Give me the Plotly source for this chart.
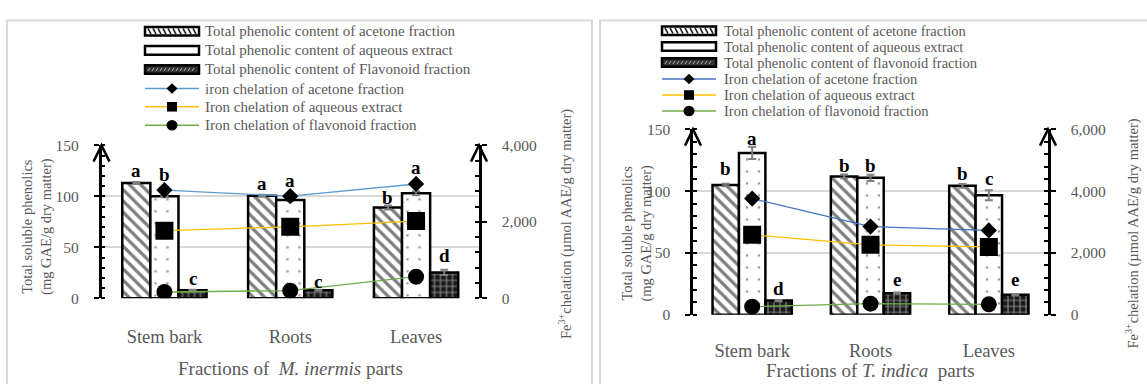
import plotly.graph_objects as go

W, H = 1147, 384
FONT = "Liberation Serif"
GRAY = "#595959"

categories = ["Stem bark", "Roots", "Leaves"]

# ---- Panel 1: M. inermis ----
mi_acetone = [113, 100.5, 89]
mi_aqueous = [100, 96.5, 103]
mi_flav = [8, 7.8, 25.4]
mi_acetone_err = [1, 1, 2]
mi_aqueous_err = [1, 1, 2]
mi_flav_err = [0.5, 0.5, 2.5]
mi_fe_acetone = [2830, 2670, 2990]
mi_fe_aqueous = [1770, 1870, 2020]
mi_fe_flav = [165, 200, 566]
mi_let_acetone = ["a", "a", "b"]
mi_let_aqueous = ["b", "a", "a"]
mi_let_flav = ["c", "c", "d"]
mi_let_y_acetone = [125, 113, 99]
mi_let_y_aqueous = [121, 115.5, 128.6]
mi_let_y_flav = [19.5, 16.5, 42]

# ---- Panel 2: T. indica ----
ti_acetone = [105, 112, 104.4]
ti_aqueous = [131, 110.8, 96.7]
ti_flav = [11.5, 17.5, 16.2]
ti_acetone_err = [1, 1.5, 1.5]
ti_aqueous_err = [5, 2.5, 4]
ti_flav_err = [0.5, 0.5, 0.5]
ti_fe_acetone = [3763, 2855, 2731]
ti_fe_aqueous = [2590, 2267, 2196]
ti_fe_flav = [265, 361, 340]
ti_let_acetone = ["b", "b", "b"]
ti_let_aqueous = ["a", "b", "c"]
ti_let_flav = ["d", "e", "e"]
ti_let_y_acetone = [118, 121, 114.5]
ti_let_y_aqueous = [143, 121, 110.6]
ti_let_y_flav = [21.7, 28.6, 28.6]

legend1_labels = [
    "Total phenolic content of acetone fraction",
    "Total phenolic content of aqueous extract",
    "Total phenolic content of Flavonoid fraction",
    "iron chelation of acetone fraction",
    "Iron chelation of aqueous extract",
    "Iron chelation of flavonoid fraction",
]
legend2_labels = [
    "Total phenolic content of acetone fraction",
    "Total phenolic content of aqueous extract",
    "Total phenolic content of flavonoid fraction",
    "Iron chelation of acetone fraction",
    "Iron chelation of aqueous extract",
    "Iron chelation of flavonoid fraction",
]


def px(x):
    return x / W


def py(y):
    return 1 - y / H


BARGAP = 0.33
OFF = (1 - BARGAP) / 3

pat_ac = dict(shape="\\", fgcolor="black", bgcolor="white", size=8, solidity=0.4)
pat_aq = dict(shape=".", fgcolor="#333333", bgcolor="white", size=12, solidity=0.04)
pat_fl = dict(shape="+", fgcolor="#f0f0f0", bgcolor="#1a1a1a", size=6, solidity=0.35)

fig = go.Figure()
annotations = []
shapes = []


def add_panel(xa, ya, ya2, bars, errs, fes, letters, letter_ys, blue):
    pats = [pat_ac, pat_aq, pat_fl]
    for i, (vals, err, pat) in enumerate(zip(bars, errs, pats)):
        fig.add_trace(go.Bar(
            x=categories, y=vals, xaxis=xa, yaxis=ya, offsetgroup=str(i),
            marker=dict(color=pat["bgcolor"], pattern=pat, line=dict(color="black", width=2.5)),
            error_y=dict(type="data", array=err, color="#7f7f7f", thickness=2, width=4),
            showlegend=False, hoverinfo="skip"))
    styles = [(blue, "diamond", 12.5), ("#FFC000", "square", 18), ("#70AD47", "circle", 16)]
    for vals, (col, sym, size) in zip(fes, styles):
        fig.add_trace(go.Scatter(
            x=categories, y=vals, xaxis=xa, yaxis=ya2, mode="lines+markers",
            line=dict(color=col, width=1.3),
            marker=dict(symbol=sym, size=size, color="black"),
            showlegend=False, hoverinfo="skip"))
    for j, (labs, ys) in enumerate(zip(letters, letter_ys)):
        for i, (t, yv) in enumerate(zip(labs, ys)):
            annotations.append(dict(
                x=i + (j - 1) * OFF, y=yv, xref=xa, yref=ya, text="<b>%s</b>" % t,
                showarrow=False, font=dict(family=FONT, size=19, color="black"),
                xanchor="center", yanchor="middle"))


add_panel("x", "y", "y2",
          [mi_acetone, mi_aqueous, mi_flav],
          [mi_acetone_err, mi_aqueous_err, mi_flav_err],
          [mi_fe_acetone, mi_fe_aqueous, mi_fe_flav],
          [mi_let_acetone, mi_let_aqueous, mi_let_flav],
          [mi_let_y_acetone, mi_let_y_aqueous, mi_let_y_flav], "#5B9BD5")
add_panel("x2", "y3", "y4",
          [ti_acetone, ti_aqueous, ti_flav],
          [ti_acetone_err, ti_aqueous_err, ti_flav_err],
          [ti_fe_acetone, ti_fe_aqueous, ti_fe_flav],
          [ti_let_acetone, ti_let_aqueous, ti_let_flav],
          [ti_let_y_acetone, ti_let_y_aqueous, ti_let_y_flav], "#4472C4")

# geometry (pixels)
P1 = dict(x0=101.5, x1=479, ytop=142.7, ybot=302.7)
P2 = dict(x0=693, x1=1048, ytop=126, ybot=320)

tickfont = dict(family=FONT, size=15.5, color=GRAY)


def xaxis(p, anchor, standoff):
    return dict(domain=[px(p["x0"]), px(p["x1"])], type="category", range=[-0.5, 2.5], anchor=anchor,
                showgrid=False, zeroline=False, showline=False, ticks="",
                tickfont=dict(family=FONT, size=18.5, color=GRAY), ticklabelstandoff=standoff,
                fixedrange=True)


def yleft(p, anchor):
    return dict(domain=[py(p["ybot"]), py(p["ytop"])], range=[0, 150], dtick=50, tick0=0,
                anchor=anchor, showgrid=True, gridcolor="#D9D9D9", gridwidth=1.5, zeroline=False,
                showline=True, linecolor="black", linewidth=2.5, ticks="outside", ticklen=5,
                tickwidth=2, tickcolor="black",
                minor=dict(dtick=10, ticks="inside", ticklen=4, tickwidth=1.5, tickcolor="black", showgrid=False),
                tickfont=tickfont, ticklabelstandoff=12, fixedrange=True)


def yright(rng, over, anchor):
    return dict(range=[0, rng], dtick=2000, tick0=0, tickformat=",", overlaying=over, side="right",
                anchor=anchor, showgrid=False, zeroline=False, showline=True, linecolor="black",
                linewidth=2.5, ticks="outside", ticklen=5, tickwidth=2, tickcolor="black",
                minor=dict(dtick=400, ticks="inside", ticklen=4, tickwidth=1.5, tickcolor="black", showgrid=False),
                tickfont=tickfont, ticklabelstandoff=12, fixedrange=True)


# panel boxes
for bx0, bx1 in [(7, 592), (600, 1170)]:
    shapes.append(dict(type="rect", xref="paper", yref="paper", x0=px(bx0), x1=px(bx1),
                       y0=py(395), y1=py(12), line=dict(color="#D9D9D9", width=2), layer="below"))

# axis arrowheads
for p in (P1, P2):
    for ax in (p["x0"], p["x1"]):
        t = p["ytop"]
        shapes.append(dict(type="path", xref="paper", yref="paper",
                           path="M %f,%f L %f,%f L %f,%f" % (px(ax - 8), py(t + 17), px(ax), py(t), px(ax + 8), py(t + 17)),
                           line=dict(color="black", width=2.5)))


# axis titles
def title(x, y, text, angle=0, size=14):
    annotations.append(dict(x=px(x), y=py(y), xref="paper", yref="paper", text=text, showarrow=False,
                            textangle=angle, font=dict(family=FONT, size=size, color=GRAY),
                            xanchor="center", yanchor="middle"))


title(37, 228, "Total soluble phenolics<br>(mg GAE/g dry matter)", -90, 14.5)
title(565, 225, "Fe<sup>3+</sup>chelation (µmol AAE/g dry matter)", -90, 14.5)
title(290, 376, "Fractions of \u00a0<i>M. inermis</i> parts", 0, 19)
title(637, 235, "Total soluble phenolics<br>(mg GAE/g dry matter)", -90, 14.5)
title(1133, 235, "Fe<sup>3+</sup>chelation (µmol AAE/g dry matter)", -90, 14.5)
title(870, 378.5, "Fractions of <i>T. indica</i> \u00a0parts", 0, 19)


# manual legends
def legend(x0, x1, tx, rows, labels, size, blue):
    cx = (x0 + x1) / 2
    for k, (ry, lab) in enumerate(zip(rows, labels)):
        annotations.append(dict(x=px(tx), y=py(ry), xref="paper", yref="paper", text=lab, showarrow=False,
                                font=dict(family=FONT, size=size, color=GRAY), xanchor="left", yanchor="middle"))
        if k < 3:
            fill = ["white", "white", "#333333"][k]
            shapes.append(dict(type="rect", xref="paper", yref="paper", x0=px(x0), x1=px(x1),
                               y0=py(ry + 4.5), y1=py(ry - 4.5), fillcolor=fill,
                               line=dict(color="black", width=2.5)))
            if k == 0:
                segs = " ".join("M %f,%f L %f,%f" % (px(xx), py(ry - 3), px(xx + 3), py(ry + 3))
                                for xx in range(int(x0) + 3, int(x1) - 4, 5))
                shapes.append(dict(type="path", xref="paper", yref="paper", path=segs,
                                   line=dict(color="#222222", width=1.6)))
            if k == 2:
                segs = " ".join("M %f,%f L %f,%f" % (px(xx), py(ry + 1.5), px(xx + 2), py(ry - 1.5))
                                for xx in range(int(x0) + 3, int(x1) - 3, 4))
                shapes.append(dict(type="path", xref="paper", yref="paper", path=segs,
                                   line=dict(color="#bbbbbb", width=1)))
        else:
            col = [blue, "#FFC000", "#70AD47"][k - 3]
            shapes.append(dict(type="line", xref="paper", yref="paper", x0=px(x0), x1=px(x1),
                               y0=py(ry), y1=py(ry), line=dict(color=col, width=1.5)))
            if k == 3:
                r = 5.5
                path = "M %f,%f L %f,%f L %f,%f L %f,%f Z" % (px(cx), py(ry - r), px(cx + r), py(ry),
                                                             px(cx), py(ry + r), px(cx - r), py(ry))
                shapes.append(dict(type="path", xref="paper", yref="paper", path=path,
                                   fillcolor="black", line=dict(color="black", width=0)))
            elif k == 4:
                r = 5
                shapes.append(dict(type="rect", xref="paper", yref="paper", x0=px(cx - r), x1=px(cx + r),
                                   y0=py(ry + r), y1=py(ry - r), fillcolor="black", line=dict(width=0)))
            else:
                r = 5.5
                shapes.append(dict(type="circle", xref="paper", yref="paper", x0=px(cx - r), x1=px(cx + r),
                                   y0=py(ry + r), y1=py(ry - r), fillcolor="black", line=dict(width=0)))


legend(145, 199, 203, [23.3, 43.3, 63.3, 83.3, 102.3, 121.7], legend1_labels, 15, "#5B9BD5")
legend(662, 716, 722, [22.7, 39.3, 56, 73.3, 90, 106.7], legend2_labels, 14.5, "#4472C4")

fig.update_layout(
    autosize=True,
    margin=dict(l=0, r=0, t=0, b=0),
    paper_bgcolor="white", plot_bgcolor="rgba(0,0,0,0)",
    barmode="group", bargap=BARGAP, bargroupgap=0,
    showlegend=False,
    xaxis=xaxis(P1, "y", 25), yaxis=yleft(P1, "x"), yaxis2=yright(4000, "y", "x"),
    xaxis2=xaxis(P2, "y3", 23), yaxis3=yleft(P2, "x2"), yaxis4=yright(6000, "y3", "x2"),
    annotations=annotations, shapes=shapes,
    font=dict(family=FONT, color=GRAY),
)

fig.write_html(
    "out.html",
    config={"displayModeBar": False},
    default_width="%dpx" % W,
    default_height="%dpx; position:absolute; left:0; top:0" % H,
)
